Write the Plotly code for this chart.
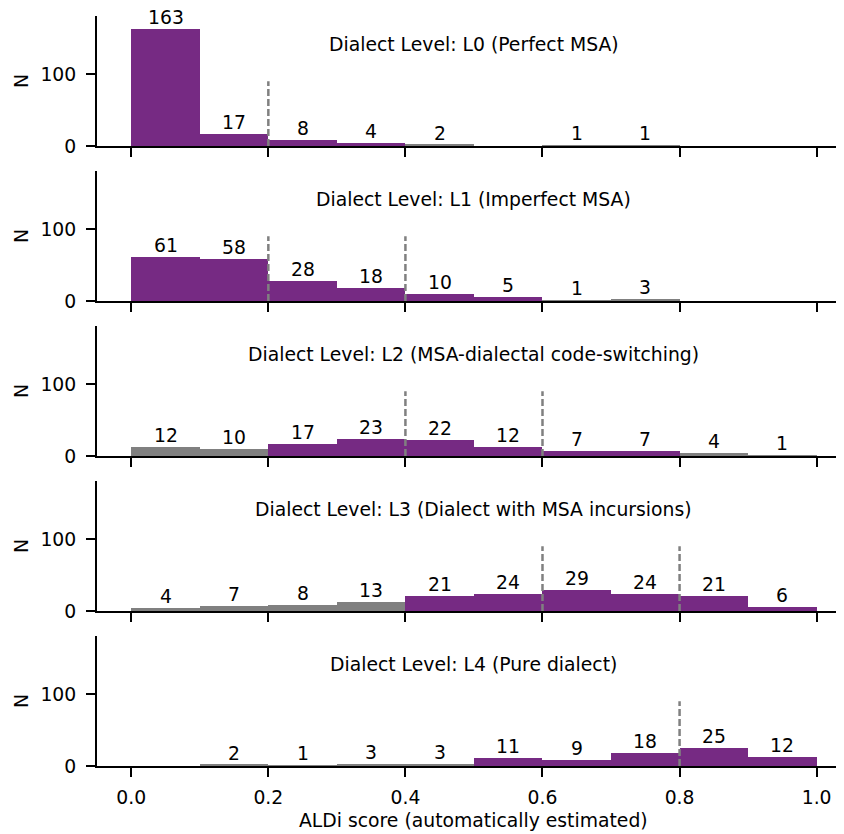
import plotly.graph_objects as go

bin_edges = [0.0, 0.1, 0.2, 0.3, 0.4, 0.5, 0.6, 0.7, 0.8, 0.9, 1.0]
levels = [
    "Dialect Level: L0 (Perfect MSA)",
    "Dialect Level: L1 (Imperfect MSA)",
    "Dialect Level: L2 (MSA-dialectal code-switching)",
    "Dialect Level: L3 (Dialect with MSA incursions)",
    "Dialect Level: L4 (Pure dialect)",
]
counts_L0 = [163, 17, 8, 4, 2, 0, 1, 1, 0, 0]
counts_L1 = [61, 58, 28, 18, 10, 5, 1, 3, 0, 0]
counts_L2 = [12, 10, 17, 23, 22, 12, 7, 7, 4, 1]
counts_L3 = [4, 7, 8, 13, 21, 24, 29, 24, 21, 6]
counts_L4 = [0, 2, 1, 3, 3, 11, 9, 18, 25, 12]
# P = purple (inside expected range), G = grey
colors_L0 = ["P", "P", "P", "P", "G", "G", "G", "G", "G", "G"]
colors_L1 = ["P", "P", "P", "P", "P", "P", "G", "G", "G", "G"]
colors_L2 = ["G", "G", "P", "P", "P", "P", "P", "P", "G", "G"]
colors_L3 = ["G", "G", "G", "G", "P", "P", "P", "P", "P", "P"]
colors_L4 = ["G", "G", "G", "G", "G", "P", "P", "P", "P", "P"]
dashed_L0 = [0.2]
dashed_L1 = [0.2, 0.4]
dashed_L2 = [0.4, 0.6]
dashed_L3 = [0.6, 0.8]
dashed_L4 = [0.8]
dashed_height = 90
x_ticks = [0.0, 0.2, 0.4, 0.6, 0.8, 1.0]
y_ticks = [0, 100]

all_counts = [counts_L0, counts_L1, counts_L2, counts_L3, counts_L4]
all_colors = [colors_L0, colors_L1, colors_L2, colors_L3, colors_L4]
all_dashed = [dashed_L0, dashed_L1, dashed_L2, dashed_L3, dashed_L4]

PURPLE = "#762a83"
GREY = "#808080"
cmap = {"P": PURPLE, "G": GREY}
FONT = "DejaVu Sans"
FS = 18.8

# page has an 8px body margin; figure coordinates = page coordinates - 8
OFF = 8
W, H = 844 - OFF, 834 - OFF
ml, mr, mt, mb = 97 - OFF, 2, 16 - OFF, 68
ph = H - mt - mb
pw = W - ml - mr
panel_px = 130
gap_px = 25

centers = [(bin_edges[i] + bin_edges[i + 1]) / 2 for i in range(len(bin_edges) - 1)]
widths = [bin_edges[i + 1] - bin_edges[i] for i in range(len(bin_edges) - 1)]

fig = go.Figure()
layout = dict(
    width=W, height=H,
    margin=dict(l=ml, r=mr, t=mt, b=mb, autoexpand=False),
    plot_bgcolor="white", paper_bgcolor="white",
    showlegend=False,
    font=dict(family=FONT, size=FS, color="black"),
    bargap=0,
)
annotations = []
shapes = []

for i in range(5):
    n = i + 1
    xa = "x" if n == 1 else f"x{n}"
    ya = "y" if n == 1 else f"y{n}"
    top_px = mt + i * (panel_px + gap_px)
    bot_px = top_px + panel_px
    dom = [(H - mb - bot_px) / ph, (H - mb - top_px) / ph]

    fig.add_trace(go.Bar(
        x=centers, y=all_counts[i], width=widths,
        marker=dict(color=[cmap[c] for c in all_colors[i]], line=dict(width=0)),
        xaxis=xa, yaxis=ya, hoverinfo="skip",
    ))

    last = (i == 4)
    layout["xaxis" if n == 1 else f"xaxis{n}"] = dict(
        domain=[0, 1], anchor=ya, range=[-0.05, 1.037],
        tickvals=x_ticks, tickformat=".1f", showticklabels=last,
        ticks="outside", ticklen=9, tickwidth=2, tickcolor="black",
        showline=True, linecolor="black", linewidth=2,
        showgrid=False, zeroline=False, automargin=False,
        tickfont=dict(family=FONT, size=FS),
        ticklabelstandoff=4 if last else 0,
    )
    if not last:
        layout["xaxis" if n == 1 else f"xaxis{n}"]["matches"] = "x5"
    layout["yaxis" if n == 1 else f"yaxis{n}"] = dict(
        domain=dom, anchor=xa, range=[0, 180.5],
        tickvals=y_ticks, ticks="outside", ticklen=9, tickwidth=2, tickcolor="black",
        showline=True, linecolor="black", linewidth=2,
        showgrid=False, zeroline=False, automargin=False,
        tickfont=dict(family=FONT, size=FS),
        ticklabelstandoff=6,
    )

    for c, v in zip(centers, all_counts[i]):
        if v > 0:
            annotations.append(dict(
                x=c, y=v, xref=xa, yref=ya, text=str(v), showarrow=False,
                xanchor="center", yanchor="bottom", yshift=-1,
                font=dict(family=FONT, size=FS, color="black"),
            ))
    annotations.append(dict(
        x=0.5, y=0.777, xref=xa, yref=f"{ya} domain", text=levels[i], showarrow=False,
        xanchor="center", yanchor="middle",
        font=dict(family=FONT, size=FS, color="black"),
    ))
    annotations.append(dict(
        x=(21 - OFF - ml) / pw, y=(dom[0] + dom[1]) / 2, xref="paper", yref="paper",
        text="N", textangle=-90, showarrow=False, xanchor="center", yanchor="middle",
        font=dict(family=FONT, size=FS, color="black"),
    ))
    for xv in all_dashed[i]:
        shapes.append(dict(
            type="line", xref=xa, yref=ya, x0=xv, x1=xv, y0=0, y1=dashed_height,
            line=dict(color=GREY, width=2.5, dash="7px,3px"), layer="above",
        ))

# x-axis title placed at fixed position (page y ~ 820)
annotations.append(dict(
    x=0.5, xref="x5", y=-(820 - OFF - (H - mb)) / ph, yref="paper",
    text="ALDi score (automatically estimated)", showarrow=False,
    xanchor="center", yanchor="middle",
    font=dict(family=FONT, size=FS, color="black"),
))

layout["annotations"] = annotations
layout["shapes"] = shapes
fig.update_layout(**layout)
fig.write_html("out.html")
